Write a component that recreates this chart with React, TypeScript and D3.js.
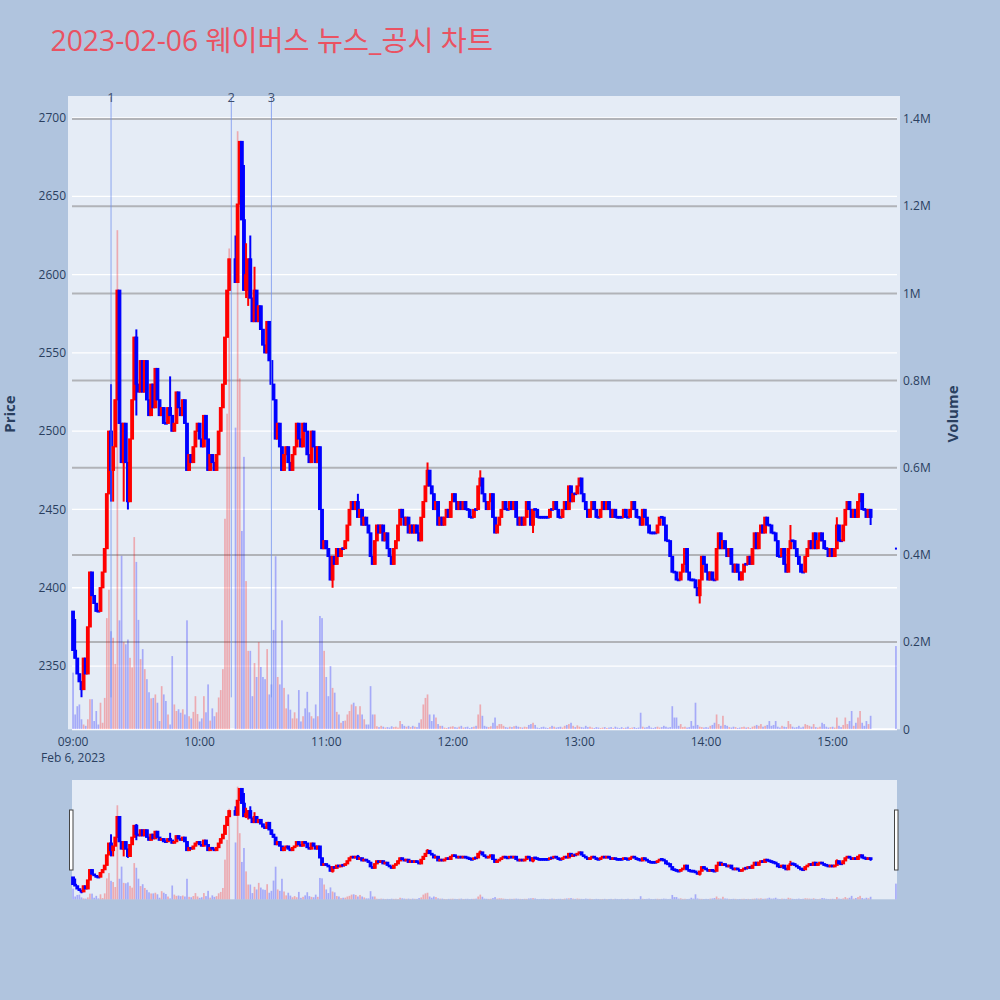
import React from "react";
import * as d3 from "d3";

// ---------------- data ----------------
const TITLE = "2023-02-06 웨이버스 뉴스_공시 차트";
const FIRST_OPEN = 2385;

// 1-minute closes from 09:00 (index = minute after 09:00); null = no trade (VI halt)
const closes: (number | null)[] = [
  2360, 2355, 2345, 2340, 2335, 2355, 2345, 2375, 2410, 2395,
  2390, 2385, 2385, 2400, 2410, 2425, 2460, 2500, 2475, 2490,
  2520, 2590, 2505, 2480, 2505, 2480, 2455, 2495, 2520, 2560,
  2530, 2525, 2545, 2525, 2545, 2520, 2510, 2530, 2515, 2540,
  2520, 2510, 2515, 2505, 2505, 2515, 2510, 2500, 2505, 2525,
  2515, 2510, 2520, 2505, 2475, 2485, 2480, 2490, 2500, 2505,
  2495, 2490, 2510, 2495, 2475, 2485, 2480, 2475, 2485, 2500,
  2515, 2530, 2560, 2590, 2610, null, null, 2595, 2645, 2685,
  2635, 2590, 2600, 2610, 2585, 2570, 2590, 2570, 2580, 2565,
  2555, 2550, 2570, 2545, 2530, 2520, 2495, 2505, 2490, 2475,
  2485, 2490, 2480, 2475, 2485, 2490, 2505, 2495, 2490, 2505,
  2500, 2485, 2480, 2500, 2490, 2480, 2490, 2450, 2425, 2430,
  2425, 2420, 2405, 2420, 2415, 2425, 2420, 2425, 2425, 2430,
  2440, 2450, 2455, 2450, 2455, 2445, 2450, 2440, 2445, 2440,
  2435, 2420, 2415, 2430, 2440, 2435, 2440, 2430, 2435, 2425,
  2420, 2415, 2425, 2430, 2440, 2450, 2445, 2440, 2445, 2435,
  2440, 2435, 2440, 2435, 2430, 2445, 2455, 2465, 2475, 2465,
  2460, 2450, 2455, 2440, 2445, 2440, 2445, 2450, 2445, 2455,
  2460, 2455, 2450, 2455, 2450, 2455, 2450, 2450, 2445, 2445,
  2450, 2450, 2465, 2470, 2460, 2455, 2450, 2455, 2460, 2445,
  2435, 2440, 2445, 2450, 2455, 2450, 2450, 2455, 2450, 2455,
  2445, 2440, 2445, 2440, 2445, 2455, 2450, 2440, 2450, 2450,
  2445, 2445, 2445, 2445, 2445, 2445, 2450, 2450, 2455, 2450,
  2445, 2445, 2450, 2455, 2450, 2465, 2455, 2460, 2460, 2465,
  2470, 2460, 2455, 2450, 2445, 2450, 2455, 2450, 2445, 2445,
  2450, 2455, 2450, 2455, 2450, 2445, 2450, 2445, 2445, 2445,
  2445, 2450, 2445, 2445, 2450, 2455, 2450, 2445, 2445, 2440,
  2450, 2445, 2440, 2435, 2435, 2435, 2435, 2440, 2445, 2445,
  2440, 2430, 2430, 2420, 2410, 2410, 2405, 2405, 2410, 2415,
  2425, 2410, 2405, 2405, 2405, 2400, 2395, 2405, 2420, 2415,
  2410, 2405, 2410, 2405, 2405, 2425, 2435, 2425, 2430, 2425,
  2420, 2425, 2415, 2410, 2415, 2410, 2405, 2410, 2415, 2415,
  2420, 2415, 2425, 2435, 2425, 2435, 2440, 2435, 2445, 2440,
  2440, 2435, 2435, 2430, 2420, 2420, 2425, 2415, 2410, 2425,
  2430, 2430, 2425, 2420, 2415, 2410, 2410, 2420, 2425, 2430,
  2425, 2435, 2425, 2430, 2435, 2430, 2425, 2425, 2420, 2425,
  2420, 2425, 2440, 2430, 2430, 2440, 2450, 2455, 2450, 2445,
  2450, 2445, 2455, 2460, 2450, 2450, 2445, 2450, 2445,
];

// 1-minute volume, thousands of shares
const volumesK: (number | null)[] = [
  130, 34, 53, 57, 23, 11, 8, 23, 69, 69,
  19, 42, 11, 61, 15, 72, 255, 320, 225, 210,
  150, 1145, 250, 398, 200, 195, 206, 164, 142, 441,
  384, 251, 161, 184, 138, 115, 85, 71, 72, 80,
  61, 19, 99, 80, 65, 34, 11, 168, 57, 42,
  46, 38, 46, 34, 250, 30, 25, 40, 76, 35,
  18, 25, 76, 39, 103, 20, 48, 30, 39, 73,
  90, 138, 483, 724, 1103, null, null, 692, 1372, 805,
  455, 625, 340, 180, 180, 76, 152, 120, 200, 143,
  120, 115, 184, 80, 103, 228, 397, 120, 103, 250,
  95, 48, 80, 45, 25, 39, 25, 90, 18, 30,
  48, 86, 39, 30, 25, 57, 30, 260, 255, 180,
  120, 76, 145, 95, 84, 40, 34, 15, 19, 20,
  34, 42, 57, 61, 53, 34, 53, 34, 23, 11,
  11, 99, 34, 34, 7, 5, 8, 6, 4, 5,
  4, 7, 5, 6, 4, 19, 12, 8, 6, 8,
  5, 8, 6, 5, 15, 23, 57, 72, 80, 34,
  19, 34, 27, 12, 8, 8, 4, 3, 5, 6,
  7, 5, 4, 6, 8, 4, 5, 6, 3, 5,
  6, 8, 34, 57, 31, 8, 6, 5, 7, 15,
  27, 8, 12, 12, 8, 5, 4, 6, 5, 7,
  8, 6, 5, 4, 6, 5, 10, 12, 15, 10,
  4, 3, 5, 6, 4, 3, 5, 8, 6, 4,
  5, 6, 4, 8, 10, 12, 15, 8, 5, 9,
  6, 5, 4, 8, 5, 6, 4, 3, 5, 4,
  3, 4, 5, 3, 4, 5, 3, 6, 4, 3,
  5, 3, 4, 6, 3, 4, 5, 3, 4, 38,
  6, 4, 5, 8, 4, 3, 5, 6, 4, 5,
  8, 6, 4, 5, 53, 27, 27, 8, 12, 5,
  6, 4, 5, 19, 8, 61, 10, 6, 5, 4,
  5, 4, 8, 10, 15, 34, 12, 8, 31, 10,
  8, 5, 4, 6, 5, 3, 4, 5, 6, 4,
  5, 3, 6, 8, 10, 8, 12, 6, 8, 10,
  19, 8, 10, 19, 6, 4, 8, 6, 5, 19,
  12, 6, 4, 5, 8, 4, 6, 12, 10, 8,
  6, 12, 5, 4, 6, 15, 12, 6, 4, 5,
  6, 4, 27, 8, 5, 10, 27, 12, 19, 42,
  8, 15, 27, 42, 15, 8, 19, 12, 31,
];

// minutes with shadows beyond the body
const wickMinutes = [1, 4, 9, 18, 19, 22, 24, 26, 30, 39, 46, 77, 81, 82, 83, 84, 86, 117, 123, 135, 168, 193, 200, 218, 297, 340, 362, 378];
const wickHighs: (number | null)[] = [2380, null, 2410, 2530, null, 2585, null, null, 2565, 2540, 2535, 2625, 2670, 2620, null, 2625, 2605, 2490, null, 2460, 2480, 2475, null, null, null, 2440, 2445, null];
const wickLows: (number | null)[] = [null, 2330, null, 2455, 2455, null, 2455, 2450, 2510, null, null, null, null, 2585, 2580, null, null, null, 2400, null, null, null, 2435, 2435, 2390, null, null, 2440];

// closing single-price auction at 15:30
const closeAuctionMinute = 390;
const closeAuctionPrice = 2425;
const closeAuctionVolumeK = 191;

const priceTicks = [2350, 2400, 2450, 2500, 2550, 2600, 2650, 2700];
const volumeTicks = [0, 200000, 400000, 600000, 800000, 1000000, 1200000, 1400000];
const volumeTickLabels = ["0", "0.2M", "0.4M", "0.6M", "0.8M", "1M", "1.2M", "1.4M"];
const hourTicks = ["09:00", "10:00", "11:00", "12:00", "13:00", "14:00", "15:00"];
const newsLabels = ["1", "2", "3"];
const newsTimes = ["09:18", "10:15", "10:34"];

// ---------------- helpers ----------------
const RED = "#ff0000";
const BLUE = "#0000ff";
const FONT = "'Open Sans', 'Noto Sans CJK KR', sans-serif";
const AXIS_COLOR = "#2a3f5f";

const dayAt = (h: number, m: number) => new Date(2023, 1, 6, h, m, 0);
const minuteToDate = (i: number) => dayAt(9, i);
const hhmm = (s: string) => {
  const [h, m] = s.split(":").map(Number);
  return dayAt(h, m);
};

type Candle = { t: Date; o: number; h: number; l: number; c: number; v: number; up: boolean; dot?: boolean };

function buildCandles(): Candle[] {
  const out: Candle[] = [];
  let prev = FIRST_OPEN;
  closes.forEach((c, i) => {
    if (c == null) return;
    const o = prev;
    const wi = wickMinutes.indexOf(i);
    const hw = wi >= 0 && wickHighs[wi] != null ? (wickHighs[wi] as number) : -Infinity;
    const lw = wi >= 0 && wickLows[wi] != null ? (wickLows[wi] as number) : Infinity;
    out.push({
      t: minuteToDate(i),
      o,
      c,
      h: Math.max(o, c, hw),
      l: Math.min(o, c, lw),
      v: (volumesK[i] ?? 0) * 1000,
      up: c > o,
    });
    prev = c;
  });
  out.push({
    t: minuteToDate(closeAuctionMinute),
    o: closeAuctionPrice,
    c: closeAuctionPrice,
    h: closeAuctionPrice,
    l: closeAuctionPrice,
    v: closeAuctionVolumeK * 1000,
    up: false,
    dot: true,
  });
  return out;
}

const candles = buildCandles();

// ---------------- layout ----------------
const X0 = 72, X1 = 897;
const PLOT_TOP = 96, PLOT_BOT = 729.3;
const SL_TOP = 780, SL_BOT = 899.3;
const PRICE_DOMAIN: [number, number] = [2309.6, 2714.05];
const VOL_DOMAIN: [number, number] = [0, 1452800];

const x = d3.scaleTime().domain([new Date(2023, 1, 6, 8, 59, 30), new Date(2023, 1, 6, 15, 30, 30)]).range([X0, X1]);
const yP = d3.scaleLinear().domain(PRICE_DOMAIN).range([PLOT_BOT, PLOT_TOP]);
const yV = d3.scaleLinear().domain(VOL_DOMAIN).range([PLOT_BOT, PLOT_TOP]);
const ySP = d3.scaleLinear().domain(PRICE_DOMAIN).range([SL_BOT, SL_TOP]);
const ySV = d3.scaleLinear().domain(VOL_DOMAIN).range([SL_BOT, SL_TOP]);

function VolumeBars({ yv }: { yv: d3.ScaleLinear<number, number> }) {
  const base = yv(0);
  return (
    <g>
      {candles.map((d, i) => {
        const top = yv(d.v);
        return (
          <rect
            key={i}
            x={x(d.t) - 0.85}
            y={top}
            width={1.7}
            height={Math.max(0, base - top)}
            fill={d.up ? RED : BLUE}
            fillOpacity={0.28}
          />
        );
      })}
    </g>
  );
}

function Candles({ yp }: { yp: d3.ScaleLinear<number, number> }) {
  return (
    <g>
      {candles.map((d, i) => {
        const col = d.up ? RED : BLUE;
        const cx = x(d.t);
        if (d.dot) {
          return <rect key={i} x={cx - 1} y={yp(d.c) - 1} width={2} height={2} fill={col} />;
        }
        const yt = yp(Math.max(d.o, d.c));
        const yb = yp(Math.min(d.o, d.c));
        const hgt = Math.max(1.5, yb - yt);
        return (
          <g key={i}>
            <line x1={cx} x2={cx} y1={yp(d.h)} y2={yp(d.l)} stroke={col} strokeWidth={2} />
            <rect
              x={cx - 1.3}
              y={yt - (hgt - (yb - yt)) / 2}
              width={2.6}
              height={hgt}
              fill={col}
              stroke={col}
              strokeWidth={1.2}
            />
          </g>
        );
      })}
    </g>
  );
}

export default function App() {
  return (
    <svg
      width={1000}
      height={1000}
      style={{ position: "absolute", left: 0, top: 0, display: "block" }}
      fontFamily={FONT}
    >
      <defs>
        <clipPath id="mainClip">
          <rect x={68} y={PLOT_TOP} width={832} height={PLOT_BOT - PLOT_TOP} />
        </clipPath>
      </defs>
      <rect x={0} y={0} width={1000} height={1000} fill="#b0c4de" />

      <text x={50.5} y={50.5} fontSize={28.3} fill="#ea5262">
        {TITLE}
      </text>

      {/* main plot background */}
      <rect x={68} y={PLOT_TOP} width={832} height={PLOT_BOT - PLOT_TOP} fill="#e5ecf6" />

      {/* price grid (white) */}
      {priceTicks.map((p) => (
        <line key={"pg" + p} x1={X0} x2={X1} y1={yP(p)} y2={yP(p)} stroke="#ffffff" strokeWidth={1.3} />
      ))}
      {/* volume grid (gray) */}
      {volumeTicks.slice(1).map((v) => (
        <line key={"vg" + v} x1={X0} x2={X1} y1={yV(v)} y2={yV(v)} stroke="#b1b3b8" strokeWidth={2} />
      ))}
      <line x1={X0} x2={X1} y1={yV(0)} y2={yV(0)} stroke="#ffffff" strokeWidth={2} />

      <g clipPath="url(#mainClip)">
        <VolumeBars yv={yV} />
        <Candles yp={yP} />
      </g>

      {/* news markers */}
      {newsTimes.map((t, i) => {
        const nx = x(hhmm(t));
        return (
          <g key={"n" + i}>
            <line x1={nx} x2={nx} y1={PLOT_TOP + 1} y2={yP(2330)} stroke="#6f8fef" strokeOpacity={0.75} strokeWidth={1} />
            <text x={nx} y={101.5} fontSize={13} textAnchor="middle" fill="#3d4f6e">
              {newsLabels[i]}
            </text>
          </g>
        );
      })}

      {/* left axis labels */}
      {priceTicks.map((p) => (
        <text key={"pl" + p} x={66} y={yP(p)} dy="0.35em" fontSize={12} textAnchor="end" fill={AXIS_COLOR}>
          {p}
        </text>
      ))}
      {/* right axis labels */}
      {volumeTicks.map((v, i) => (
        <text key={"vl" + v} x={903} y={yV(v)} dy="0.35em" fontSize={12} textAnchor="start" fill={AXIS_COLOR}>
          {volumeTickLabels[i]}
        </text>
      ))}
      {/* x axis labels */}
      {hourTicks.map((h) => (
        <text key={"xl" + h} x={x(hhmm(h))} y={746} fontSize={12} textAnchor="middle" fill={AXIS_COLOR}>
          {h}
        </text>
      ))}
      <text x={x(hhmm("09:00"))} y={762} fontSize={12} textAnchor="middle" fill={AXIS_COLOR}>
        Feb 6, 2023
      </text>

      {/* axis titles */}
      <text
        transform={`translate(10,414) rotate(-90)`}
        fontSize={15}
        fontWeight="bold"
        textAnchor="middle"
        dy="0.35em"
        fill={AXIS_COLOR}
      >
        Price
      </text>
      <text
        transform={`translate(953,414) rotate(-90)`}
        fontSize={15}
        fontWeight="bold"
        textAnchor="middle"
        dy="0.35em"
        fill={AXIS_COLOR}
      >
        Volume
      </text>

      {/* range slider */}
      <rect x={X0} y={SL_TOP} width={X1 - X0} height={SL_BOT - SL_TOP} fill="#e5ecf6" />
      <VolumeBars yv={ySV} />
      <Candles yp={ySP} />
      <rect x={69.5} y={810} width={3.5} height={60} fill="#ffffff" stroke="#444" strokeWidth={1} />
      <rect x={894.5} y={810} width={3.5} height={60} fill="#ffffff" stroke="#444" strokeWidth={1} />
    </svg>
  );
}
